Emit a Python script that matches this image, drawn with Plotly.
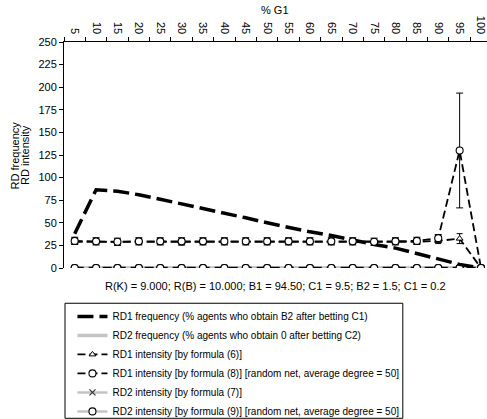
import plotly.graph_objects as go

# % of agents in group G1
g1_pct = ["5", "10", "15", "20", "25", "30", "35", "40", "45", "50",
          "55", "60", "65", "70", "75", "80", "85", "90", "95", "100"]

# RD1 frequency (% agents who obtain B2 after betting C1)
rd1_freq = [38, 86.5, 85, 81, 76, 71, 66, 61, 55.5, 50,
            45, 40, 36, 31, 26, 22, 16, 10, 4, 0]
# RD2 frequency (% agents who obtain 0 after betting C2)
rd2_freq = [0] * 20

# RD1 intensity, formula (6)
rd1_int6 = [29, 29, 28.5, 29, 29, 28.5, 29, 29, 29, 29,
            29, 29, 29, 29, 28.5, 29, 29, 30, 32.5, 0]
rd1_int6_err = [3, 3, 3, 3, 3, 3, 3, 3, 3, 3,
                3, 3, 3, 3, 3, 3, 3, 3, 5.5, 0]
# RD1 intensity, formula (8), random net with average degree 50
rd1_int8 = [30, 29.5, 29, 29.5, 29.5, 29.5, 29.5, 29.5, 29.5, 29.5,
            29.5, 29.5, 29.5, 29.5, 29, 29.5, 30, 33, 130, 0]
rd1_int8_err = [4, 4, 4, 4, 4, 4, 4, 4, 4, 4,
                4, 4, 4, 4, 4, 4, 4, 4, 63.5, 0]
# RD2 intensity, formulas (7) and (9)
rd2_int7 = [0] * 20
rd2_int9 = [0] * 20

y_ticks = [0, 25, 50, 75, 100, 125, 150, 175, 200, 225, 250]
y_title_lines = ["RD frequency", "RD intensity"]

FONT = "Liberation Sans, Arial, sans-serif"
GREY = "#c4c4c4"

fig = go.Figure()

fig.add_trace(go.Scatter(
    x=g1_pct, y=rd2_freq, mode="lines", legendrank=2,
    name="RD2 frequency (% agents who obtain 0 after betting C2)",
    line=dict(color=GREY, width=3.5)))

fig.add_trace(go.Scatter(
    x=g1_pct, y=rd2_int7, mode="lines+markers", legendrank=5,
    name="RD2 intensity [by formula (7)]",
    line=dict(color=GREY, width=2.5),
    marker=dict(symbol="x-thin", size=6, line=dict(color="#333333", width=1.2))))

fig.add_trace(go.Scatter(
    x=g1_pct, y=rd2_int9, mode="lines+markers", legendrank=6,
    name="RD2 intensity [by formula (9)] [random net, average degree = 50]",
    line=dict(color=GREY, width=2.5),
    marker=dict(symbol="circle", size=7, color="white",
                line=dict(color="black", width=1.1))))

# dark dashes along the zero row, same series as formula (9)
fig.add_trace(go.Scatter(
    x=g1_pct, y=rd2_int9, mode="lines+markers", showlegend=False,
    hoverinfo="skip",
    line=dict(color="black", width=2.5, dash="9px,5px"),
    marker=dict(symbol="circle", size=7, color="white",
                line=dict(color="black", width=1.1))))

fig.add_trace(go.Scatter(
    x=g1_pct, y=rd1_freq, mode="lines", legendrank=1,
    name="RD1 frequency (% agents who obtain B2 after betting C1)",
    line=dict(color="black", width=3.5, dash="16px,6px")))

fig.add_trace(go.Scatter(
    x=g1_pct, y=rd1_int6, mode="lines+markers", legendrank=3,
    name="RD1 intensity [by formula (6)]",
    line=dict(color="black", width=1.8, dash="8px,4px"),
    marker=dict(symbol="triangle-up", size=6, color="white",
                line=dict(color="black", width=1)),
    error_y=dict(type="data", array=rd1_int6_err, color="black",
                 thickness=1, width=3)))

fig.add_trace(go.Scatter(
    x=g1_pct, y=rd1_int8, mode="lines+markers", legendrank=4,
    name="RD1 intensity [by formula (8)] [random net, average degree = 50]",
    line=dict(color="black", width=1.8, dash="8px,4px"),
    marker=dict(symbol="circle", size=7, color="white",
                line=dict(color="black", width=1.1)),
    error_y=dict(type="data", array=rd1_int8_err, color="black",
                 thickness=1, width=3.5)))

annotations = [
    dict(text="% G1", xref="paper", yref="paper", x=0.499, y=1.14,
         xanchor="center", yanchor="middle", showarrow=False,
         font=dict(family=FONT, size=11)),
    dict(text="R(K) = 9.000; R(B) = 10.000; B1 = 94.50; C1 = 9.5; "
              "B2 = 1.5; C1 = 0.2",
         xref="paper", yref="paper", x=0.50, y=-0.078,
         xanchor="center", yanchor="middle", showarrow=False,
         font=dict(family=FONT, size=11)),
]
# two-line vertical axis title, lines set close together
for line_text, xpos in zip(y_title_lines, [-0.1147, -0.0922]):
    annotations.append(dict(
        text=line_text, xref="paper", yref="paper", x=xpos, y=0.5,
        xanchor="center", yanchor="middle", textangle=-90, showarrow=False,
        font=dict(family=FONT, size=11)))

fig.update_layout(
    width=487, height=419,
    margin=dict(l=64, r=0, t=42, b=151, autoexpand=False),
    paper_bgcolor="white", plot_bgcolor="white",
    font=dict(family=FONT, size=11, color="black"),
    showlegend=True,
    legend=dict(
        x=0.02, y=-0.15, xanchor="left", yanchor="top",
        bgcolor="rgba(0,0,0,0)", borderwidth=0,
        font=dict(family=FONT, size=10, color="black"),
        tracegroupgap=0,
    ),
    xaxis=dict(
        type="category", side="top", range=[-0.5, 19.28],
        tickson="boundaries", ticks="outside", ticklen=4, tickcolor="black",
        tickangle=90, showline=True, linecolor="black", linewidth=1,
        showgrid=False, zeroline=False, ticklabelstandoff=3,
        tickfont=dict(family=FONT, size=11),
    ),
    yaxis=dict(
        range=[0, 250], tickvals=y_ticks, ticks="outside", ticklen=4,
        tickcolor="black", showline=True, linecolor="black", linewidth=1,
        showgrid=False, zeroline=False,
        tickfont=dict(family=FONT, size=11),
    ),
    annotations=annotations,
    shapes=[
        dict(type="rect", xref="paper", yref="paper",
             x0=0.0024, x1=0.801, y0=-0.665, y1=-0.156,
             line=dict(color="black", width=1), fillcolor="rgba(0,0,0,0)"),
    ],
)

fig.write_html("out.html")
